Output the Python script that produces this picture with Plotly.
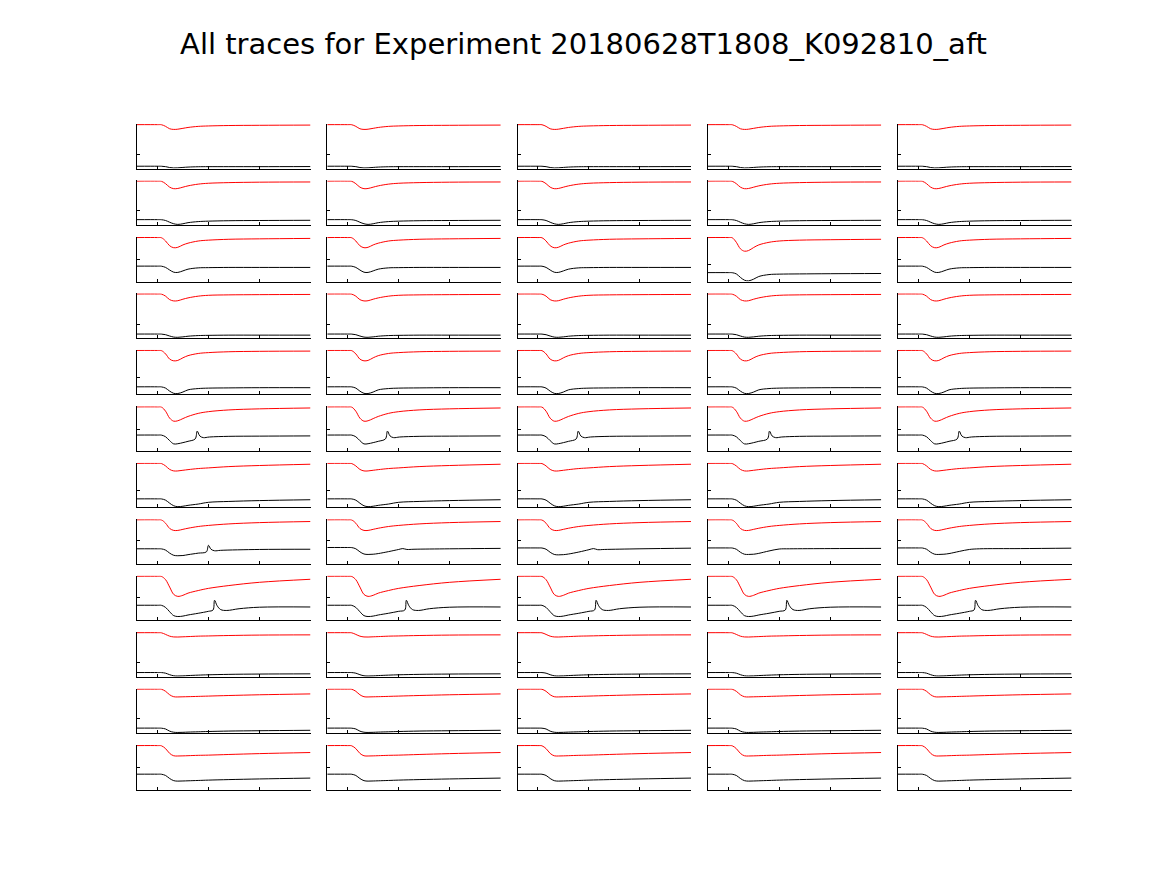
import plotly.graph_objects as go

TITLE = "All traces for Experiment 20180628T1808_K092810_aft"
N_ROWS, N_COLS = 12, 5

# shared sample times for the smooth traces
X = [-20, 0, 4, 8, 12, 16, 20, 25, 30, 40, 50, 70, 100, 150]
X_TICKS = [0, 50, 100, 150]
X_RANGE = [-20, 150]

# one y tick per row (same units as traces, 0 = bottom, 100 = top)
Y_TICK = [30, 33, 49, 29, 37, 48, 37, 52, 50, 31, 33, 50]

RED_ROWS = [
    [100, 100, 99.8, 96, 90.5, 89, 89.5, 91.5, 93.5, 96, 97, 98, 98.5, 99],
    [100, 100, 99.5, 94, 86, 82.5, 83, 86, 89, 93, 95, 96.5, 97.5, 98],
    [100, 100, 99.5, 92, 81, 76.5, 77.5, 83, 87, 92, 94, 96, 97, 98],
    [100, 100, 99.6, 95, 87, 84, 84.5, 88, 91, 95, 97, 98, 98.5, 99],
    [100, 100, 99.5, 92, 80, 76, 77, 83, 88, 93, 95, 97, 98, 98.5],
    [100, 100, 99.5, 90, 74, 67, 68, 73, 78, 85, 89, 93, 95.5, 97.5],
    [100, 100, 99.5, 94, 86, 82.5, 82.5, 84, 85.5, 88, 89.5, 92.5, 95, 98],
    [100, 100, 99.5, 92, 80, 75.5, 75.5, 78, 80.5, 84.5, 87, 90.5, 93.5, 96],
    [100, 100, 99.5, 92, 75, 58, 53.5, 56, 61, 67, 72, 78.5, 86, 93],
    [100, 100, 99.7, 96, 92, 90.2, 90, 90.5, 91, 92, 92.5, 93.5, 94.5, 95],
    [100, 100, 99.7, 95, 87, 82.5, 82, 82.3, 82.6, 83.3, 84, 85.3, 87, 89],
    [100, 100, 99.5, 93, 82, 76.5, 76, 76.3, 76.7, 77.5, 78, 79.5, 81.5, 84],
]

BLACK_ROWS = [
    [4, 4, 3.9, 3, 1, 0, 0.3, 1.2, 2, 2.8, 3, 3, 3, 3.2],
    [11, 11, 10.8, 9, 5, 1.5, 0, 1.5, 4, 6.5, 7.5, 8.5, 9, 9.5],
    [34, 34, 33.8, 31, 25, 20, 19.5, 23, 27, 30, 30.5, 31, 31, 31],
    [7.5, 7.5, 7.4, 6, 3, 0.5, 0, 1, 2.5, 4, 4.5, 5, 5, 5],
    [16, 16, 15.8, 13, 6, 1, 0.5, 4, 9, 12, 13, 13.5, 14, 14],
    None,
    [18, 18, 17.8, 15, 8, 2, 0, 1, 3, 6, 10, 12, 14, 16],
    None,
    None,
    [8, 8, 7.9, 6.5, 3, 0.5, 0, 0.3, 1, 2, 2.8, 3.8, 4.5, 5],
    [10, 10, 9.8, 8, 3, 0.5, 0, 0.3, 0.8, 1.5, 2.2, 3.2, 4, 5],
    [34, 34, 33.8, 31, 24, 19, 18, 18.3, 18.7, 19.5, 20.3, 21.5, 23, 25],
]

# row 3, column 4 differs from its neighbours
R3C4_RED = [100, 100, 99.5, 89, 74, 68.5, 70, 77, 83, 89, 92, 94, 95, 96]
R3C4_BLACK = [19, 19, 18.8, 16, 8, 1.5, 0, 4, 10, 14.5, 15.5, 16, 16.5, 17]
R3C4_TICK = 38

# row 6: black trace with a spike near t = 40
ROW6_BLACK_X = [
    [-20, 0, 4, 8, 12, 16, 20, 25, 30, 37, 39, 41.5, 45, 51, 70, 100, 150],
    [-20, 0, 4, 8, 12, 16, 20, 25, 30, 37, 39, 41.5, 45, 51, 70, 100, 150],
    [-20, 0, 4, 8, 12, 16, 20, 25, 30, 37.5, 39.5, 42, 45.5, 51.5, 70, 100, 150],
    [-20, 0, 4, 8, 12, 16, 20, 25, 30, 38.5, 40.5, 43, 46.5, 52.5, 70, 100, 150],
    [-20, 0, 4, 8, 12, 16, 20, 25, 30, 38, 40, 42.5, 46, 52, 70, 100, 150],
]
ROW6_BLACK_Y = [35, 35, 34.8, 31, 22, 14.5, 15, 17.5, 20.5, 26, 44, 33, 29, 30.5, 32, 32.5, 33]

# row 8: big spike in column 1, small bumps / plateaus elsewhere
ROW8_BLACK_X = [
    [-20, 0, 4, 8, 12, 16, 20, 25, 30, 40, 48, 50, 52.5, 56, 62, 100, 150],
    [-20, 0, 4, 8, 12, 16, 20, 25, 30, 40, 50, 54, 58, 65, 100, 150],
    [-20, 0, 4, 8, 12, 16, 20, 25, 30, 40, 50, 54.5, 58.5, 65, 100, 150],
    [-20, 0, 4, 8, 12, 16, 20, 25, 30, 40, 50, 60, 100, 150],
    [-20, 0, 4, 8, 12, 16, 20, 25, 30, 40, 50, 60, 100, 150],
]
ROW8_BLACK_Y = [
    [33, 33, 32.8, 30, 23, 18, 17, 17.5, 19.5, 23, 26, 41, 32, 28.5, 29.5, 31.5, 32],
    [36, 36, 35.8, 33, 26, 21, 20, 20.5, 22, 26.5, 31.5, 33.5, 31.5, 32, 33, 34],
    [35, 35, 34.8, 32, 25, 20, 19, 19.5, 21, 25.5, 31, 33.5, 31, 31.5, 33, 34.5],
    [35, 35, 34.8, 32, 25, 20.5, 20, 20.5, 22.5, 28, 32.5, 33, 33.5, 34],
    [35, 35, 34.8, 32, 25, 20.5, 20, 20.5, 22, 27, 31.5, 33, 33.5, 34.5],
]

# row 9: spike near t = 56..58
ROW9_BLACK_X = [
    [-20, 0, 4, 8, 12, 16, 20, 25, 30, 40, 50, 54.5, 56, 58.5, 62, 68, 80, 100, 150],
    [-20, 0, 4, 8, 12, 16, 20, 25, 30, 40, 50, 56, 57.5, 60, 63.5, 69.5, 80, 100, 150],
    [-20, 0, 4, 8, 12, 16, 20, 25, 30, 40, 50, 55.5, 57, 59.5, 63, 69, 80, 100, 150],
    [-20, 0, 4, 8, 12, 16, 20, 25, 30, 40, 50, 56, 57.5, 60, 63.5, 69.5, 80, 100, 150],
    [-20, 0, 4, 8, 12, 16, 20, 25, 30, 40, 50, 54.5, 56, 58.5, 62, 68, 80, 100, 150],
]
ROW9_BLACK_Y = [33, 33, 32.8, 28, 18, 9, 7, 8, 10.5, 14.5, 19, 22, 44.5, 32, 23, 21, 25, 28.5, 29]

RED = "#ff0000"
BLACK = "#000000"

# ---- layout geometry (pixels of the 1167 x 875 page) ----
W, H = 1167, 875
COL_LEFT, COL_PITCH, COL_W = 137.0, 190.25, 173.5
ROW_TOP, ROW_PITCH, ROW_H = 124.0, 56.45, 44.6

fig = go.Figure()
layout = {}

for r in range(N_ROWS):
    for c in range(N_COLS):
        k = r * N_COLS + c + 1
        xname = "x" if k == 1 else f"x{k}"
        yname = "y" if k == 1 else f"y{k}"
        xkey = "xaxis" if k == 1 else f"xaxis{k}"
        ykey = "yaxis" if k == 1 else f"yaxis{k}"

        red_x, red_y = X, RED_ROWS[r]
        tick = Y_TICK[r]
        if r == 5:
            blk_x, blk_y = ROW6_BLACK_X[c], ROW6_BLACK_Y
        elif r == 7:
            blk_x, blk_y = ROW8_BLACK_X[c], ROW8_BLACK_Y[c]
        elif r == 8:
            blk_x, blk_y = ROW9_BLACK_X[c], ROW9_BLACK_Y
        else:
            blk_x, blk_y = X, BLACK_ROWS[r]
        if r == 2 and c == 3:
            red_y, blk_y, tick = R3C4_RED, R3C4_BLACK, R3C4_TICK

        fig.add_trace(go.Scatter(
            x=red_x, y=red_y, mode="lines",
            line=dict(color=RED, width=1, shape="spline", smoothing=1.0),
            xaxis=xname, yaxis=yname, showlegend=False, hoverinfo="skip"))
        fig.add_trace(go.Scatter(
            x=blk_x, y=blk_y, mode="lines",
            line=dict(color=BLACK, width=1, shape="spline", smoothing=1.0),
            xaxis=xname, yaxis=yname, showlegend=False, hoverinfo="skip"))

        x0 = (COL_LEFT + c * COL_PITCH) / W
        x1 = (COL_LEFT + c * COL_PITCH + COL_W) / W
        ytop = ROW_TOP + r * ROW_PITCH
        y1 = 1 - ytop / H
        y0 = 1 - (ytop + ROW_H) / H

        layout[xkey] = dict(
            domain=[x0, x1], anchor=yname, range=X_RANGE,
            tickmode="array", tickvals=X_TICKS, ticks="inside", ticklen=3,
            tickcolor="black", tickwidth=1, showticklabels=False,
            showgrid=False, zeroline=False, showline=True,
            linecolor="black", linewidth=1, fixedrange=True)
        layout[ykey] = dict(
            domain=[y0, y1], anchor=xname, range=[-1.5, 101.5],
            tickmode="array", tickvals=[tick], ticks="inside", ticklen=3,
            tickcolor="black", tickwidth=1, showticklabels=False,
            showgrid=False, zeroline=False, showline=True,
            linecolor="black", linewidth=1, fixedrange=True)

fig.update_layout(
    width=W, height=H,
    margin=dict(l=0, r=0, t=0, b=0),
    paper_bgcolor="white", plot_bgcolor="white",
    title=dict(text=TITLE, x=0.5, xanchor="center", xref="paper",
               y=1 - 44 / H, yanchor="middle", yref="paper",
               font=dict(family="DejaVu Sans", size=29, color="black")),
    **layout)

fig.write_html("out.html")
